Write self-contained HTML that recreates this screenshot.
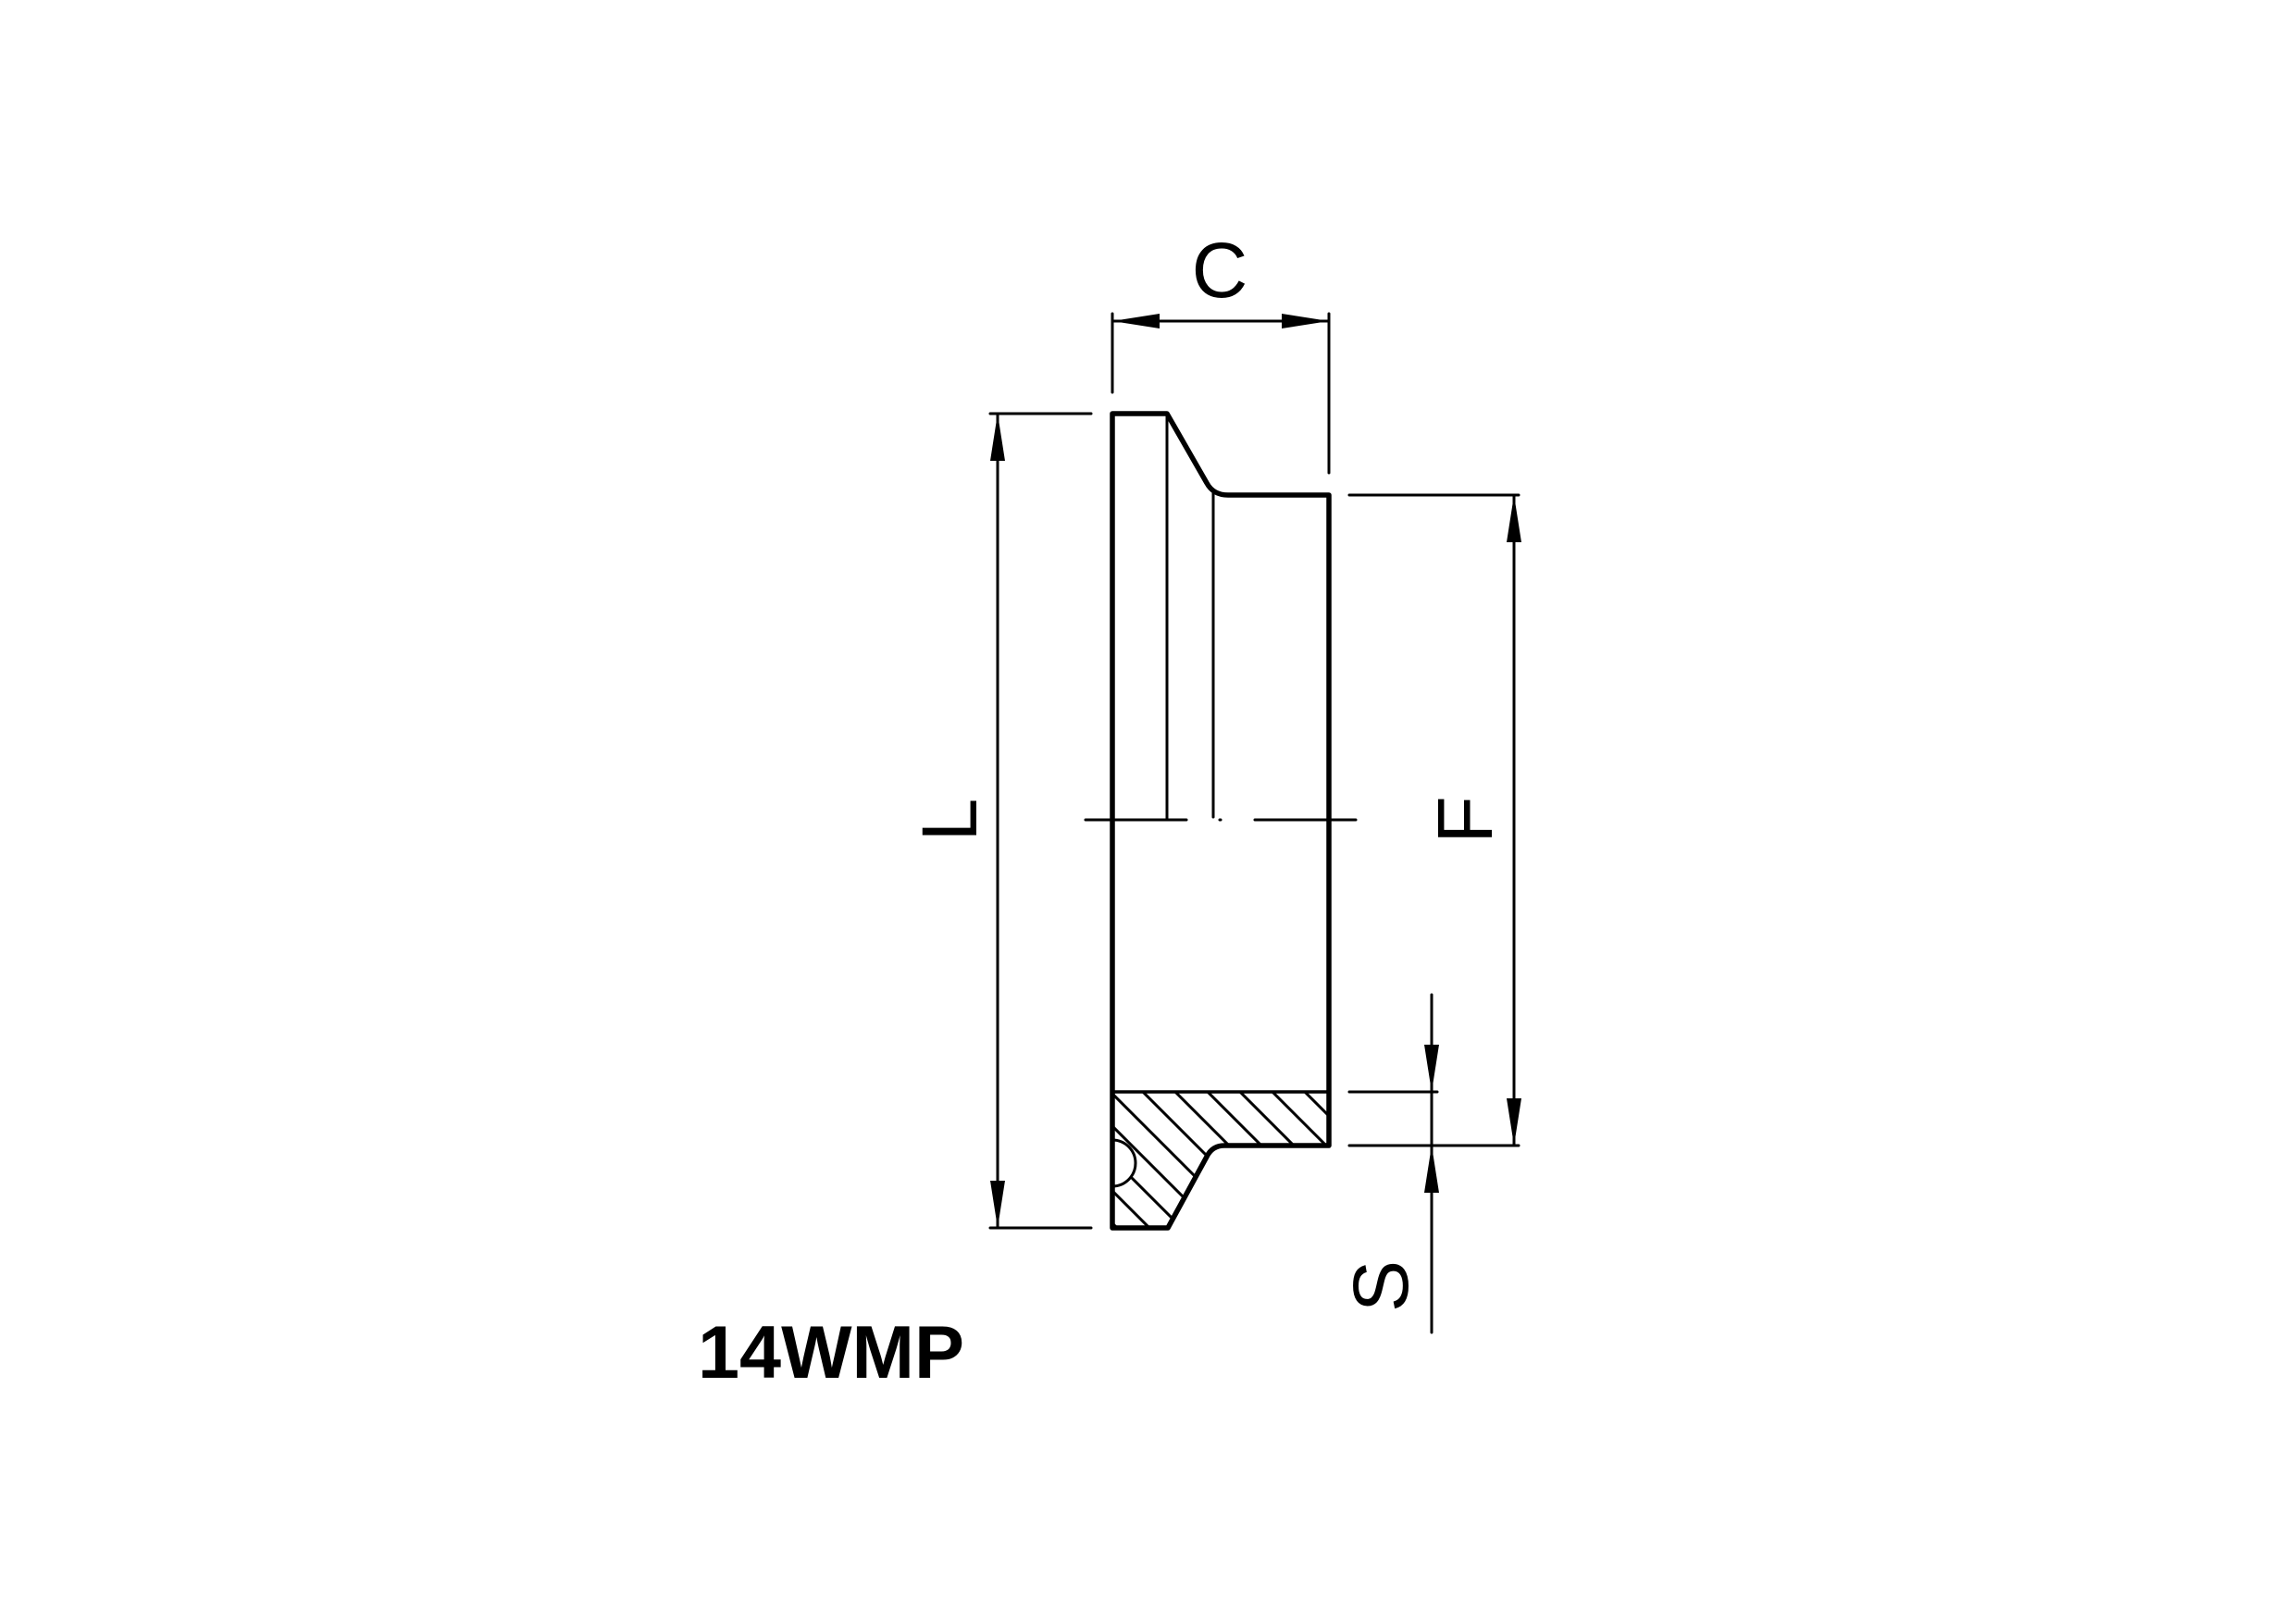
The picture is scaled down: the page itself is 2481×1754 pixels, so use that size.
<!DOCTYPE html>
<html><head><meta charset="utf-8"><style>html,body{margin:0;padding:0;background:#fff}svg{display:block}</style></head>
<body>
<svg width="2481" height="1754" viewBox="0 0 2481 1754" xmlns="http://www.w3.org/2000/svg">
<defs>
<clipPath id="hc"><path d="M1202,1180 L1436,1180 L1436,1238 L1323,1238 Q1310,1238 1304,1250 L1262,1327 L1202,1327 Z"/></clipPath>
</defs>
<g clip-path="url(#hc)" stroke="#000" stroke-width="3" fill="none">
<line x1="1100" y1="870" x2="1500" y2="1270"/>
<line x1="1100" y1="905" x2="1500" y2="1305"/>
<line x1="1100" y1="940" x2="1500" y2="1340"/>
<line x1="1100" y1="975" x2="1500" y2="1375"/>
<line x1="1100" y1="1010" x2="1500" y2="1410"/>
<line x1="1100" y1="1045" x2="1500" y2="1445"/>
<line x1="1100" y1="1080" x2="1500" y2="1480"/>
<line x1="1100" y1="1115" x2="1500" y2="1515"/>
<line x1="1100" y1="1150" x2="1500" y2="1550"/>
<line x1="1100" y1="1185" x2="1500" y2="1585"/>
<line x1="1100" y1="1220" x2="1500" y2="1620"/>
</g>
<g stroke="#000" fill="none" stroke-linecap="round">
<path d="M1202,1232 A25,25 0 0 1 1202,1282 Z" fill="#fff" stroke-width="3"/>
<path d="M1202,1327 L1202,447 L1261,447 L1304,522 Q1311,535 1327,535 L1436,535 L1436,1238 L1323,1238 Q1310,1238 1304,1250 L1262,1327 Z" stroke-width="5.5" stroke-linejoin="round"/>
<line x1="1202" y1="1180" x2="1436" y2="1180" stroke-width="3.5"/>
<line x1="1261" y1="447" x2="1261" y2="886" stroke-width="3"/>
<line x1="1311" y1="529" x2="1311" y2="883" stroke-width="3"/>
<line x1="1173" y1="886" x2="1282" y2="886" stroke-width="3"/>
<line x1="1318" y1="886" x2="1319" y2="886" stroke-width="3"/>
<line x1="1356" y1="886" x2="1465" y2="886" stroke-width="3"/>
<line x1="1202" y1="339" x2="1202" y2="424" stroke-width="3"/>
<line x1="1436" y1="339" x2="1436" y2="511" stroke-width="3"/>
<line x1="1202" y1="347" x2="1436" y2="347" stroke-width="3"/>
<line x1="1070" y1="447" x2="1179" y2="447" stroke-width="3"/>
<line x1="1070" y1="1327" x2="1179" y2="1327" stroke-width="3"/>
<line x1="1078" y1="447" x2="1078" y2="1327" stroke-width="3"/>
<line x1="1458" y1="535" x2="1641" y2="535" stroke-width="3"/>
<line x1="1458" y1="1238" x2="1641" y2="1238" stroke-width="3"/>
<line x1="1636" y1="535" x2="1636" y2="1238" stroke-width="3"/>
<line x1="1458" y1="1180" x2="1553" y2="1180" stroke-width="3"/>
<line x1="1547" y1="1075" x2="1547" y2="1440" stroke-width="3"/>
</g>
<g fill="#000">
<polygon points="1202,347 1253,339 1253,355"/>
<polygon points="1436,347 1385,339 1385,355"/>
<polygon points="1078,447 1070,498 1086,498"/>
<polygon points="1078,1327 1070,1276 1086,1276"/>
<polygon points="1636,535 1628,586 1644,586"/>
<polygon points="1636,1238 1628,1187 1644,1187"/>
<polygon points="1547,1180 1539,1129 1555,1129"/>
<polygon points="1547,1238 1539,1289 1555,1289"/>
</g>
<g font-family="'Liberation Sans', Arial, sans-serif" fill="#000" text-anchor="middle">
<text x="1318" y="321" font-size="84">C</text>
<text transform="translate(1055,886) rotate(-90)" font-size="84">L</text>
<text transform="translate(1612,886) rotate(-90)" font-size="84">F</text>
<text transform="translate(1521,1390) rotate(-90)" font-size="84">S</text>
<text x="898" y="1489" font-size="81" font-weight="bold">14WMP</text>
</g>
</svg>
</body></html>
